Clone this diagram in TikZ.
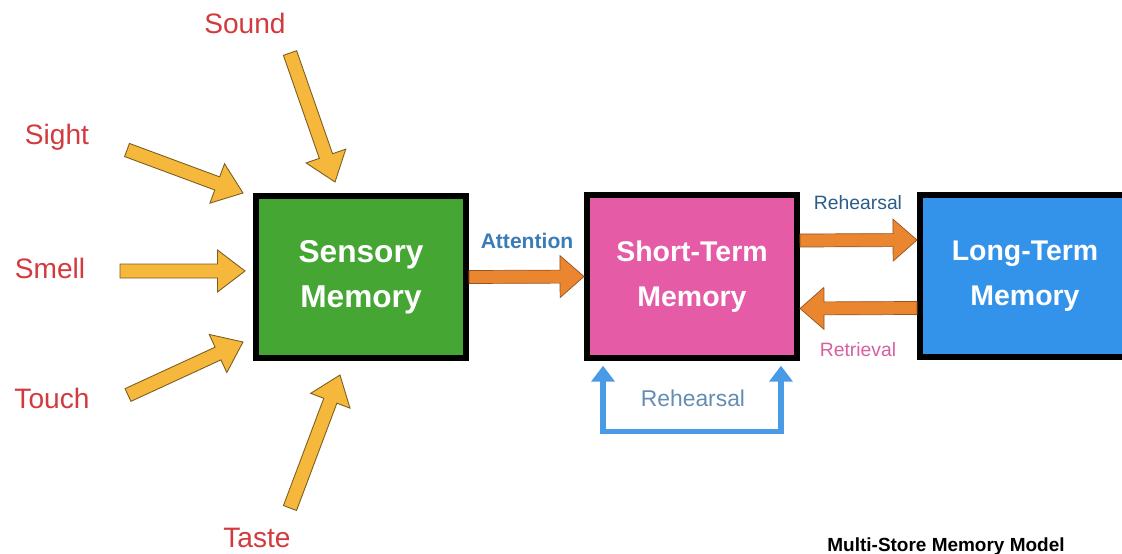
\documentclass[tikz,border=0pt]{standalone}
\usepackage{fontspec}
\setmainfont{Liberation Sans}
\usepackage{xcolor}
\usepackage{tikz}
\usetikzlibrary{positioning,calc,arrows.meta}

\definecolor{sensegreen}{HTML}{45A634}
\definecolor{shortpink}{HTML}{E55BA6}
\definecolor{longblue}{HTML}{3393EA}
\definecolor{sensered}{HTML}{D33A3E}
\definecolor{arrowyellow}{HTML}{F5B83C}
\definecolor{yellowedge}{HTML}{7A5E1E}
\definecolor{arroworange}{HTML}{E9862F}
\definecolor{orangeedge}{HTML}{9A5220}
\definecolor{loopblue}{HTML}{4A9BE6}

\tikzset{
    memory/.style={draw=black, line width=0.12cm, minimum width=4.2cm, minimum height=3.25cm,
        align=center, text=white, font=\bfseries\fontsize{18}{25.5}\selectfont},
    smallmem/.style={font=\bfseries\fontsize{16.2}{25.5}\selectfont},
    sense/.style={text=sensered, font=\fontsize{16}{19}\selectfont},
    yarrow/.style={fill=arrowyellow, draw=yellowedge, line width=0.5pt, line join=miter},
    oarrow/.style={fill=arroworange, draw=orangeedge, line width=0.4pt, line join=miter},
}

% block arrow: style, from, to, half shaft, half head, head length
\newcommand{\blockarrow}[6]{
    \coordinate (ba-n) at ($(#3)!#6!(#2)$);
    \filldraw[#1] ($(#2)!#4!90:(#3)$) -- ($(ba-n)!#4!90:(#3)$) -- ($(ba-n)!#5!90:(#3)$)
        -- (#3) -- ($(ba-n)!#5!-90:(#3)$) -- ($(ba-n)!#4!-90:(#3)$) -- ($(#2)!#4!-90:(#3)$) -- cycle;
}

\begin{document}
\begin{tikzpicture}[x=0.02cm, y=-0.02cm]
    \clip (0,0) rectangle (1122,554);
    \fill[white] (0,0) rectangle (1122,554);

    % Stores
    \node[memory, fill=sensegreen] (sm) at (361,277) {Sensory\\Memory};
    \node[memory, smallmem, fill=shortpink] (stm) at (692,276.5) {Short-Term\\Memory};
    \node[memory, smallmem, fill=longblue] (ltm) at (1025,276) {Long-Term\\Memory};

    % Senses
    \node[sense] (sound) at (245,23) {Sound};
    \node[sense] (sight) at (57,137) {Sight};
    \node[sense] (smell) at (50,268) {Smell};
    \node[sense] (touch) at (52,398) {Touch};
    \node[sense] (taste) at (257,538) {Taste};

    \coordinate (sound-a) at (290,53);
    \coordinate (sound-b) at (335,182);
    \coordinate (sight-a) at (127,150);
    \coordinate (sight-b) at (243,193);
    \coordinate (smell-a) at (120,271);
    \coordinate (smell-b) at (245,271);
    \coordinate (touch-a) at (128,395);
    \coordinate (touch-b) at (243,342);
    \coordinate (taste-a) at (290,508);
    \coordinate (taste-b) at (340,375);

    \foreach \s in {sound, sight, smell, touch, taste} {
        \blockarrow{yarrow}{\s-a}{\s-b}{0.14cm}{0.42cm}{0.55cm}
    }

    % Transfers
    \blockarrow{oarrow}{sm.east}{stm.west}{0.13cm}{0.42cm}{0.48cm}
    \node[text=loopblue!80!black, font=\bfseries\fontsize{12}{14}\selectfont] (att) at (527,241) {Attention};

    \coordinate (reh-a) at ($(stm.east)+(0,-36)$);
    \coordinate (reh-b) at ($(ltm.west)+(0,-36)$);
    \blockarrow{oarrow}{reh-a}{reh-b}{0.13cm}{0.42cm}{0.48cm}
    \node[text=loopblue!60!black, font=\fontsize{11}{13}\selectfont] (reh) at (858,203) {Rehearsal};

    \coordinate (ret-a) at ($(ltm.west)+(0,32)$);
    \coordinate (ret-b) at ($(stm.east)+(0,32)$);
    \blockarrow{oarrow}{ret-a}{ret-b}{0.13cm}{0.42cm}{0.48cm}
    \node[text=shortpink!85!gray, font=\fontsize{11}{13}\selectfont] (ret) at (858,350) {Retrieval};

    % Maintenance loop
    \draw[loopblue, line width=0.11cm, {Triangle[width=0.46cm,length=0.32cm]}-{Triangle[width=0.46cm,length=0.32cm]}]
        ($(stm.south west)+(19,5)$) |- ($(stm.south east)+(-19,71)$) -- ($(stm.south east)+(-19,5)$);
    \node[text=loopblue!50!gray, font=\fontsize{13}{15}\selectfont] (loop) at (693,398) {Rehearsal};

    \node[font=\bfseries\fontsize{10.8}{13}\selectfont] (title) at (946,547) {Multi-Store Memory Model};
\end{tikzpicture}
\end{document}
